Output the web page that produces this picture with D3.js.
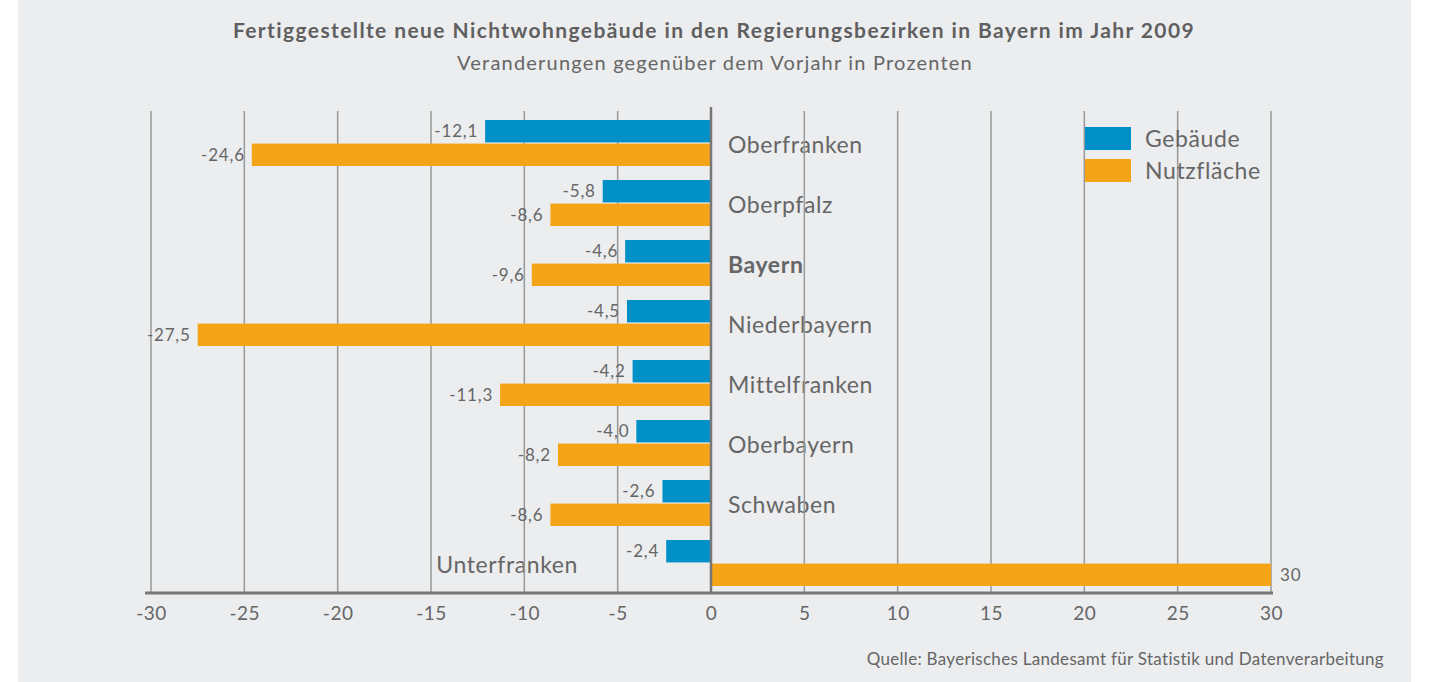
<!DOCTYPE html>
<html>
<head>
<meta charset="utf-8">
<script src="https://cdn.jsdelivr.net/npm/d3@7"></script>
<style>
  body { margin: 0; background: #fff; }
  svg text { font-family: Lato, "Open Sans", sans-serif; fill: #666; }
</style>
</head>
<body>
<div id="chart"></div>
<script>
const regions = ["Oberfranken", "Oberpfalz", "Bayern", "Niederbayern", "Mittelfranken", "Oberbayern", "Schwaben", "Unterfranken"];
const gebaeude = [-12.1, -5.8, -4.6, -4.5, -4.2, -4.0, -2.6, -2.4];
const nutzflaeche = [-24.6, -8.6, -9.6, -27.5, -11.3, -8.2, -8.6, 30];
const seriesNames = ["Gebäude", "Nutzfläche"];
const seriesColors = ["#0090c8", "#f5a418"];
const xTicks = [-30, -25, -20, -15, -10, -5, 0, 5, 10, 15, 20, 25, 30];

const width = 1429;
const height = 682;

const svg = d3
  .select("#chart")
  .append("svg")
  .attr("width", width)
  .attr("height", height);

// gray panel
svg
  .append("rect")
  .attr("x", 18)
  .attr("y", 0)
  .attr("width", 1393)
  .attr("height", height)
  .attr("fill", "#ecedef");

const x = d3.scaleLinear().domain([-30, 30]).range([151, 1271]);
const y = d3.scaleBand().domain(regions).range([113, 593]);
const inner = d3
  .scaleBand()
  .domain(seriesNames)
  .range([7, y.bandwidth() - 7])
  .paddingInner(0.05);

const comma = (s) => s.replace(".", ",");
const fmtTick = (v) => String(v);
// Gebäude always one decimal, Nutzfläche drops it on whole numbers (as in the original)
const fmtValue = [
  (v) => comma(v.toFixed(1)),
  (v) => (Number.isInteger(v) ? String(v) : comma(v.toFixed(1))),
];

// title
svg
  .append("text")
  .attr("x", 714)
  .attr("y", 38)
  .attr("text-anchor", "middle")
  .style("font-size", "21px")
  .style("font-weight", "bold")
  .style("letter-spacing", "1.4px")
  .style("fill", "#5f5f5f")
  .text("Fertiggestellte neue Nichtwohngebäude in den Regierungsbezirken in Bayern im Jahr 2009");

svg
  .append("text")
  .attr("x", 715)
  .attr("y", 70)
  .attr("text-anchor", "middle")
  .style("font-size", "20px")
  .style("letter-spacing", "1.2px")
  .text("Veranderungen gegenüber dem Vorjahr in Prozenten");

// category labels (under the grid)
svg
  .append("g")
  .selectAll("text")
  .data(regions)
  .join("text")
  .attr("x", (d, i) => (nutzflaeche[i] > 0 ? x(0) - 133 : x(0) + 17))
  .attr("y", (d) => y(d) + y.bandwidth() / 2 + 2)
  .attr("dy", "0.35em")
  .attr("text-anchor", (d, i) => (nutzflaeche[i] > 0 ? "end" : "start"))
  .style("font-size", "23px")
  .style("letter-spacing", "0.6px")
  .style("font-weight", (d) => (d === "Bayern" ? "bold" : "normal"))
  .text((d) => d);

// grid lines
svg
  .append("g")
  .attr("stroke", "#999")
  .attr("stroke-width", 1.5)
  .selectAll("line")
  .data(xTicks.filter((t) => t !== 0))
  .join("line")
  .attr("x1", (d) => x(d))
  .attr("x2", (d) => x(d))
  .attr("y1", 111)
  .attr("y2", 593);

// legend
const legend = svg
  .append("g")
  .selectAll("g")
  .data(seriesNames)
  .join("g")
  .attr("transform", (d, i) => `translate(1085,${127 + i * 32})`);
legend
  .append("rect")
  .attr("width", 46)
  .attr("height", 23)
  .attr("fill", (d, i) => seriesColors[i]);
legend
  .append("text")
  .attr("x", 60)
  .attr("y", 11.5)
  .attr("dy", "0.35em")
  .style("font-size", "23px")
  .style("letter-spacing", "0.6px")
  .text((d) => d);

// bars
const series = [gebaeude, nutzflaeche];
series.forEach((values, s) => {
  const g = svg.append("g");
  g.selectAll("rect")
    .data(values)
    .join("rect")
    .attr("x", (d) => x(Math.min(0, d)))
    .attr("width", (d) => Math.abs(x(d) - x(0)))
    .attr("y", (d, i) => y(regions[i]) + inner(seriesNames[s]))
    .attr("height", inner.bandwidth())
    .attr("fill", seriesColors[s]);

  g.selectAll("text")
    .data(values)
    .join("text")
    .attr("x", (d) => (d < 0 ? x(d) - 7 : x(d) + 9))
    .attr("y", (d, i) => y(regions[i]) + inner(seriesNames[s]) + inner.bandwidth() / 2)
    .attr("dy", "0.35em")
    .attr("text-anchor", (d) => (d < 0 ? "end" : "start"))
    .style("font-size", "17px")
    .style("letter-spacing", "0.8px")
    .text(fmtValue[s]);
});

// zero line
svg
  .append("line")
  .attr("x1", x(0))
  .attr("x2", x(0))
  .attr("y1", 107)
  .attr("y2", 594)
  .attr("stroke", "#777")
  .attr("stroke-width", 2.5);

// x axis
const axis = svg
  .append("g")
  .attr("transform", "translate(0,593)")
  .call(d3.axisBottom(x).tickValues(xTicks).tickSize(0).tickPadding(14).tickFormat(fmtTick));
axis.select(".domain").remove();
axis
  .append("line")
  .attr("x1", 145)
  .attr("x2", 1273)
  .attr("stroke", "#777")
  .attr("stroke-width", 3);
axis
  .selectAll(".tick text")
  .attr("fill", "#666")
  .style("font-size", "19px")
  .style("letter-spacing", "0.5px")
  .style("font-family", "Lato, 'Open Sans', sans-serif");

// source
svg
  .append("text")
  .attr("x", 1384)
  .attr("y", 665)
  .attr("text-anchor", "end")
  .style("font-size", "17px")
  .style("letter-spacing", "0.3px")
  .text("Quelle: Bayerisches Landesamt für Statistik und Datenverarbeitung");
</script>
</body>
</html>
